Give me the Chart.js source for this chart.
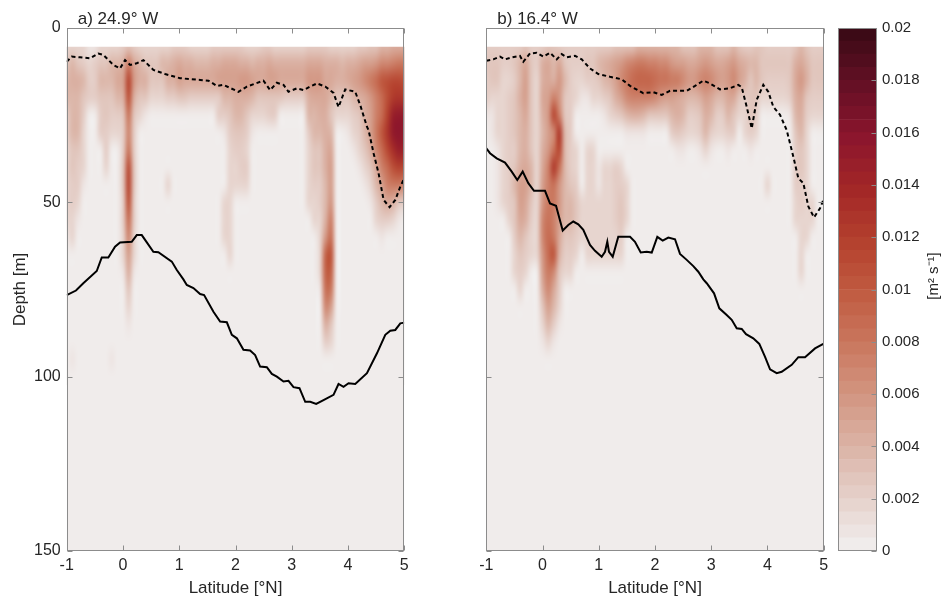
<!DOCTYPE html>
<html><head><meta charset="utf-8">
<script src="https://cdn.jsdelivr.net/npm/chart.js@4"></script>
<style>
html,body{margin:0;padding:0;background:#fff;}
#wrap{position:relative;width:948px;height:604px;overflow:hidden;background:#fff;}
canvas{position:absolute;top:0;}
</style></head><body>
<div id="wrap">
<canvas id="ca" width="420" height="604" style="left:0px"></canvas>
<canvas id="cb" width="420" height="604" style="left:420px"></canvas>
<canvas id="cc" width="128" height="604" style="left:820px"></canvas>
</div>
<script>
// ---------------- DATA ----------------
const latTicks = [-1, 0, 1, 2, 3, 4, 5];
const depthTicks = [0, 50, 100, 150];
const cbarTicks = [0, 0.002, 0.004, 0.006, 0.008, 0.01, 0.012, 0.014, 0.016, 0.018, 0.02];
const cbarStep = 0.0005;             // contour level spacing [m2 s-1]
const dataTopDepth = 5.4;            // shallowest sampled depth [m]

// gridded diffusivity, one string per depth row, one base-36 char per latitude column
// (value = char * 0.0005 m2 s-1), columns at latitude -1.0, -0.9, ... 5.0
const gridDepth = [5, 10, 15, 20, 25, 30, 35, 40, 45, 50, 55, 60, 65, 70, 75, 80, 85, 90, 95, 100];
const gridLatStart = -1, gridLatStep = 0.1;

const diffA = [
  "3333113333 4543333334 4433334444 4433344333 3334444333 3344557788 8",
  "5754345577 8e97555778 9887778899 9887889888 8889998887 889aabddef f",
  "7887447779 amb8855588 a999999aaa abba99aa99 999bbb9988 9abdfhklmm l",
  "7775445557 8k85533344 5544444477 8887555554 4448999755 5789behlop o",
  "4774004544 5f53100000 0000000445 7753334400 0007788533 3458aehntu u",
  "4773004433 4d40000000 0000000014 5541000000 0004778700 1347afkpuv u",
  "3553000400 4f40000000 0000000003 4430000000 0003558900 01358dhmqt s",
  "3543000300 5l50000000 0000000003 3440000000 0003558a00 001359ehln m",
  "3441000000 5m50000030 0000000003 3330000000 0003447a00 000137aeff e",
  "3430000000 4k40000000 0000000033 0000000000 0003347b00 0000147985 4",
  "3310000000 4g40000000 0000000033 0000000000 0000338e00 0000034431 0",
  "1300000000 3d30000000 0000000033 0000000000 000003bg00 0000001000 0",
  "0000000000 3a30000000 0000000003 0000000000 000003ik00 0000000000 0",
  "0000000000 1810000000 0000000000 0000000000 000003ii00 0000000000 0",
  "0000000000 0500000000 0000000000 0000000000 000001gf00 0000000000 0",
  "0000000000 0300000000 0000000000 0000000000 000000da00 0000000000 0",
  "0000000000 0100000000 0000000000 0000000000 0000008500 0000000000 0",
  "0000000000 0000000000 0000000000 0000000000 0000004300 0000000000 0",
  "0100000010 0000000000 0000000000 0000000000 0000000000 0000000000 0",
  "0000000000 0000000000 0000000000 0000000000 0000000000 0000000000 0"
];
const diffB = [
  "4444444544 4554444444 4445555777 7777755577 7555754455 4444457544 4",
  "5554457954 8979544455 789abdeffe eddbaa99ab a99ab98775 5555589755 5",
  "4553347a53 898b743344 578adfhiii hggffdbbde dbabda8575 444459b855 5",
  "4333458a53 9aeb543113 3458adeeee dbaa98778a 9779954553 3333489544 4",
  "1133457953 8bme540000 0134578875 5557874458 7447533540 0000178433 3",
  "0133457853 7ado740000 0000011110 0004543347 4334403430 0000057300 0",
  "0013447853 8bgm743033 0000000000 0000110013 1001000100 0000045300 0",
  "0013458973 9eog743033 1334300000 0000000000 0000000000 0000045300 0",
  "001347aa73 aegb754033 1334430000 0000000000 0000000000 3000044300 0",
  "001345a953 bffb775333 3334530000 0000000000 0000000000 0000034330 0",
  "0000359843 dgea775333 3334530000 0000000000 0000000000 0000033330 0",
  "0000047533 dhf9554333 3333400000 0000000000 0000000000 0000003300 0",
  "0000035433 bhk8443033 3333300000 0000000000 0000000000 0000003000 0",
  "0000034300 afd5330000 0000000000 0000000000 0000000000 0000003000 0",
  "0000003000 8d94000000 0000000000 0000000000 0000000000 0000000000 0",
  "0000000000 5a73000000 0000000000 0000000000 0000000000 0000000000 0",
  "0000000000 3741000000 0000000000 0000000000 0000000000 0000000000 0",
  "0000000000 1310000000 0000000000 0000000000 0000000000 0000000000 0",
  "0000000000 0000000000 0000000000 0000000000 0000000000 0000000000 0",
  "0000000000 0000000000 0000000000 0000000000 0000000000 0000000000 0"
];

// solid line (panel a)
const solidA_lat = [-1.00,-0.835,-0.705,-0.466,-0.377,-0.26,-0.141,-0.052,0.156,0.245,0.334,0.540,0.629,0.868,0.957,1.074,1.134,1.252,1.371,1.442,1.608,1.727,1.846,1.935,2.024,2.141,2.260,2.349,2.438,2.557,2.646,2.735,2.853,2.942,3.031,3.137,3.239,3.328,3.434,3.564,3.742,3.831,3.920,4.009,4.128,4.336,4.514,4.662,4.751,4.840,4.929,5.00];
const solidA_depth = [76.6,75.3,73.2,69.7,65.8,65.8,62.7,61.5,61.3,59.4,59.4,64.2,64.3,67.0,69.4,72.1,73.7,74.6,76.3,76.6,81.4,84.2,84.4,88.0,89.0,92.3,92.5,93.8,97.1,97.3,99.2,100.0,101.4,101.2,103.0,103.3,107.2,107.2,107.8,106.7,105.2,102.1,102.9,101.9,102.1,99.0,93.3,88.0,86.8,86.6,84.7,84.5];
// dashed line (panel a)
const dashA_lat = [-1.0,-0.911,-0.763,-0.586,-0.438,-0.349,-0.171,-0.052,0.037,0.126,0.245,0.363,0.540,0.749,1.015,1.371,1.519,1.668,1.786,2.052,2.202,2.497,2.616,2.735,2.853,2.942,3.091,3.209,3.328,3.447,3.595,3.742,3.831,3.950,4.128,4.217,4.336,4.365,4.454,4.543,4.632,4.739,4.840,4.929,5.0];
const dashA_depth = [9.7,8.2,8.4,8.7,7.3,7.7,10.6,11.6,9.2,10.6,10.1,9.2,12.0,13.2,14.4,14.9,15.1,16.6,16.3,18.3,16.8,15.1,17.8,15.7,16.3,18.3,17.3,17.8,16.8,15.9,16.8,18.6,22.7,17.6,18.3,22.1,28.3,29.3,35.9,41.7,49.3,51.4,49.3,45.5,43.1];
// solid line (panel b)
const solidB_lat = [-1.0,-0.934,-0.815,-0.667,-0.548,-0.449,-0.353,-0.253,-0.152,0.044,0.133,0.240,0.359,0.458,0.547,0.636,0.725,0.844,0.933,1.052,1.111,1.152,1.182,1.248,1.347,1.556,1.644,1.746,1.853,1.942,2.041,2.137,2.237,2.356,2.445,2.564,2.681,2.770,2.859,2.920,3.050,3.144,3.275,3.364,3.453,3.542,3.619,3.748,3.855,3.957,4.046,4.164,4.253,4.431,4.549,4.668,4.846,4.993];
const solidB_depth = [34.5,35.9,37.4,38.6,41.2,43.6,41.2,44.5,46.7,46.7,50.3,51.0,58.1,56.5,55.5,56.3,57.9,62.2,63.9,65.6,64.2,61.3,64.2,65.6,59.9,59.9,61.3,64.4,64.2,64.4,59.9,61.0,60.1,60.6,64.8,66.5,68.3,69.9,72.1,73.2,76.1,80.4,82.3,83.7,86.1,86.3,87.8,89.0,90.6,94.3,97.9,99.0,98.6,96.6,94.4,94.4,91.9,90.6];
// dashed line (panel b)
const dashB_lat = [-1.0,-0.876,-0.756,-0.667,-0.548,-0.401,-0.342,-0.223,-0.104,0.014,0.133,0.252,0.341,0.430,0.577,0.697,0.844,0.992,1.200,1.408,1.556,1.792,1.970,2.119,2.267,2.564,2.712,2.859,2.978,3.156,3.334,3.482,3.542,3.631,3.720,3.809,3.926,4.015,4.104,4.223,4.342,4.460,4.549,4.638,4.727,4.828,4.935,4.993];
const dashB_depth = [9.4,9.0,8.2,9.0,8.4,8.0,9.7,7.3,7.1,8.2,7.1,9.0,7.5,8.4,8.0,9.0,11.6,13.2,14.0,14.7,16.6,18.7,18.4,19.2,18.0,18.0,16.6,15.1,15.9,17.6,17.3,16.3,17.0,22.6,28.8,20.6,16.3,18.3,22.6,24.9,29.3,36.9,43.1,44.5,51.2,54.3,51.7,49.3];

// ---------------- STYLE ----------------
const CMAP = [[240,236,235],[228,206,199],[218,177,163],[210,147,126],[201,117,92],[192,89,63],[179,63,45],[162,38,39],[139,21,45],[101,16,37],[60,10,22]];
function cmap(f){
  f = Math.max(0, Math.min(1, f));
  const p = f * (CMAP.length - 1), i = Math.min(CMAP.length - 2, Math.floor(p)), t = p - i;
  return CMAP[i].map((c, j) => Math.round(c + (CMAP[i+1][j] - c) * t));
}
const nLevels = Math.round(cbarTicks[cbarTicks.length-1] / cbarStep);
function levelColor(k){ k = Math.max(0, Math.min(nLevels-1, k)); return cmap(k / (nLevels - 1)); }
const rgb = c => `rgb(${c[0]},${c[1]},${c[2]})`;

Chart.defaults.font.family = '"Liberation Sans", Arial, Helvetica, sans-serif';
Chart.defaults.color = '#262626';
const TXT = '#262626', AX = '#8c8c8c';

const heatPlugin = {
  id: 'heat',
  beforeDatasetsDraw(chart, args, opts){
    if (!opts.rows) return;
    const {ctx, chartArea: ca, scales: {x, y}} = chart;
    const rows = opts.rows.map(r => r.replace(/\s+/g, ''));
    const nr = rows.length, nc = rows[0].length;
    const off = document.createElement('canvas'); off.width = nc; off.height = nr;
    const octx = off.getContext('2d');
    const im = octx.createImageData(nc, nr);
    for (let r = 0; r < nr; r++) for (let c = 0; c < nc; c++){
      const k = parseInt(rows[r][c] || '0', 36) || 0;
      const col = levelColor(k), o = (r*nc + c)*4;
      im.data[o] = col[0]; im.data[o+1] = col[1]; im.data[o+2] = col[2]; im.data[o+3] = 255;
    }
    octx.putImageData(im, 0, 0);
    const top = y.getPixelForValue(dataTopDepth);
    ctx.save();
    ctx.beginPath(); ctx.rect(ca.left, top, ca.right - ca.left, ca.bottom - top); ctx.clip();
    ctx.fillStyle = rgb(levelColor(0));
    ctx.fillRect(ca.left, top, ca.right - ca.left, ca.bottom - top);
    const xl = x.getPixelForValue(gridLatStart - gridLatStep/2);
    const xr = x.getPixelForValue(gridLatStart + (nc - 0.5) * gridLatStep);
    const dstep = gridDepth[1] - gridDepth[0];
    const yt = y.getPixelForValue(gridDepth[0] - dstep/2);
    const yb = y.getPixelForValue(gridDepth[nr-1] + dstep/2);
    ctx.imageSmoothingEnabled = true; ctx.imageSmoothingQuality = 'high';
    ctx.drawImage(off, xl, yt, xr - xl, yb - yt);
    ctx.restore();
  }
};

const framePlugin = {
  id: 'frame',
  afterDraw(chart, args, opts){
    const {ctx, chartArea: ca, scales} = chart;
    ctx.save();
    ctx.strokeStyle = AX; ctx.lineWidth = 1;
    const L = Math.round(ca.left) + 0.5, R = Math.round(ca.right) - 0.5, T = Math.round(ca.top) + 0.5, B = Math.round(ca.bottom) - 0.5;
    ctx.strokeRect(L, T, R - L, B - T);
    ctx.beginPath();
    if (opts.xTicks && scales.x){
      opts.xTicks.forEach(v => { const p = Math.round(scales.x.getPixelForValue(v)) + 0.5;
        ctx.moveTo(p, B); ctx.lineTo(p, B - 5); ctx.moveTo(p, T); ctx.lineTo(p, T + 5); });
    }
    if (opts.yTicks && scales.y){
      opts.yTicks.forEach(v => { const p = Math.round(scales.y.getPixelForValue(v)) + 0.5;
        if (opts.yLeft !== false){ ctx.moveTo(L, p); ctx.lineTo(L + 5, p); }
        ctx.moveTo(R, p); ctx.lineTo(R - 5, p); });
    }
    ctx.stroke();
    if (opts.title){
      ctx.fillStyle = TXT; ctx.font = '17px "Liberation Sans", Arial, sans-serif';
      ctx.textAlign = 'left'; ctx.textBaseline = 'alphabetic';
      ctx.fillText(opts.title, ca.left + 11, 23.5);
    }
    if (opts.sideLabel){
      ctx.translate(opts.sideLabel.x, opts.sideLabel.y); ctx.rotate(-Math.PI/2);
      ctx.fillStyle = TXT; ctx.font = '15px "Liberation Sans", Arial, sans-serif';
      ctx.textAlign = 'center'; ctx.textBaseline = 'middle';
      ctx.fillText(opts.sideLabel.text, 0, 0);
    }
    ctx.restore();
  }
};

function pts(xs, ys){ return xs.map((v, i) => ({x: v, y: ys[i]})); }

function makePanel(id, cfg){
  return new Chart(document.getElementById(id), {
    type: 'scatter',
    data: { datasets: [
      { data: pts(cfg.solidLat, cfg.solidDepth), showLine: true, borderColor: '#000', borderWidth: 2, pointRadius: 0, tension: 0 },
      { data: pts(cfg.dashLat, cfg.dashDepth), showLine: true, borderColor: '#000', borderWidth: 2, borderDash: [4, 3], pointRadius: 0, tension: 0 }
    ]},
    options: {
      responsive: false, animation: false, devicePixelRatio: 1,
      events: [],
      layout: { padding: { left: 0, top: 28, right: cfg.padRight, bottom: 0 } },
      plugins: {
        legend: { display: false }, tooltip: { enabled: false },
        heat: { rows: cfg.rows },
        frame: { xTicks: latTicks, yTicks: depthTicks, title: cfg.title }
      },
      scales: {
        x: { type: 'linear', min: -1, max: 5,
          afterBuildTicks: s => { s.ticks = latTicks.map(v => ({value: v})); },
          ticks: { font: { size: 16 }, padding: 5, maxRotation: 0, autoSkip: false, color: TXT },
          grid: { display: false, drawTicks: false }, border: { display: false },
          title: { display: true, text: 'Latitude [°N]', font: { size: 17 }, color: TXT, padding: { top: 0, bottom: 5 } },
          afterFit: s => { s.height = 53; } },
        y: { type: 'linear', min: 0, max: 150, reverse: true,
          afterBuildTicks: s => { s.ticks = depthTicks.map(v => ({value: v})); },
          ticks: { display: cfg.yLabels, font: { size: 16 }, padding: 6, color: TXT },
          grid: { display: false, drawTicks: false }, border: { display: false },
          title: { display: cfg.yLabels, text: 'Depth [m]', font: { size: 17 }, color: TXT, padding: { top: 10, bottom: 0 } },
          afterFit: s => { s.width = cfg.yWidth; } }
      }
    },
    plugins: [heatPlugin, framePlugin]
  });
}

makePanel('ca', { rows: diffA, solidLat: solidA_lat, solidDepth: solidA_depth, dashLat: dashA_lat, dashDepth: dashA_depth,
  title: 'a) 24.9° W', yLabels: true, yWidth: 66.7, padRight: 15.7 });
makePanel('cb', { rows: diffB, solidLat: solidB_lat, solidDepth: solidB_depth, dashLat: dashB_lat, dashDepth: dashB_depth,
  title: 'b) 16.4° W', yLabels: false, yWidth: 66.3, padRight: 16.3 });

// colour bar
const cbDatasets = [];
for (let k = 0; k < nLevels; k++){
  cbDatasets.push({ data: [cbarStep], backgroundColor: rgb(levelColor(k)), borderWidth: 0,
    barPercentage: 1, categoryPercentage: 1, stack: 'cb' });
}
new Chart(document.getElementById('cc'), {
  type: 'bar',
  data: { labels: [''], datasets: cbDatasets },
  options: {
    responsive: false, animation: false, devicePixelRatio: 1, events: [],
    layout: { padding: { left: 18, top: 28, right: 0, bottom: 53 } },
    plugins: { legend: { display: false }, tooltip: { enabled: false },
      frame: { yTicks: cbarTicks, yLeft: false, sideLabel: { x: 114, y: 276, text: '[m² s⁻¹]' } } },
    scales: {
      x: { display: false, stacked: true },
      y: { position: 'right', stacked: true, min: 0, max: 0.02,
        afterBuildTicks: s => { s.ticks = cbarTicks.map(v => ({value: v})); },
        ticks: { font: { size: 15 }, padding: 5, color: TXT, callback: v => String(+Number(v).toFixed(3)) },
        grid: { display: false, drawTicks: false }, border: { display: false },
        afterFit: s => { s.width = 71; } }
    }
  },
  plugins: [framePlugin]
});
</script>
</body></html>
